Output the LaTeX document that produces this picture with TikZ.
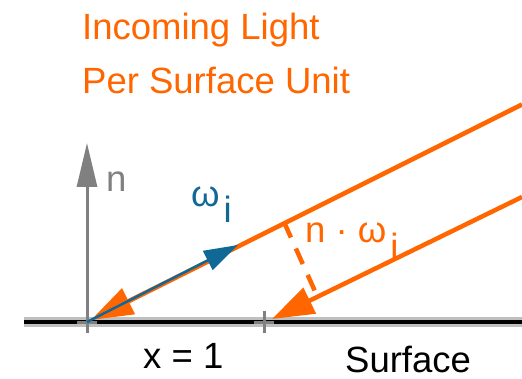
\documentclass[tikz,border=0pt]{standalone}
\usepackage{fontspec}
\setmainfont{Liberation Sans}
\usetikzlibrary{arrows.meta}
\definecolor{lightor}{RGB}{255,102,0}
\definecolor{normgray}{RGB}{128,128,128}
\definecolor{omblue}{RGB}{16,104,150}
\tikzset{
  txt/.style={inner sep=0pt, anchor=base west, font=\fontsize{36.5}{40}\selectfont},
  raylight/.style={draw=lightor, line width=4.5pt, -{Triangle[length=42pt,width=28pt]}},
  surf/.style={line width=4pt, draw=black},
  surfhalo/.style={line width=9pt, draw=black!25},
  tickmark/.style={draw=normgray, line width=3pt},
  normarrow/.style={draw=normgray, line width=3pt, -{Triangle[length=44pt,width=20pt]}},
  blueray/.style={draw=omblue, line width=2.5pt, -{Triangle[length=34pt,width=21pt]}},
  perp/.style={draw=lightor, line width=4.5pt, dash pattern=on 17pt off 12pt}
}
\begin{document}
\begin{tikzpicture}[x=1pt,y=-1pt]
\useasboundingbox (0,0) rectangle (522,379);
% coordinates
\coordinate (O) at (87,322);
\coordinate (SL) at (24,322);
\coordinate (SR) at (522,322);
\coordinate (X1) at (264,322);
\coordinate (NB) at (87,333);
\coordinate (N) at (87,143);
\coordinate (W) at (238,245);
\coordinate (L1) at (522,104.5);
\coordinate (T1) at (91,320);
\coordinate (L2) at (522,197);
\coordinate (T2) at (272,319);
\coordinate (D1) at (284,222);
\coordinate (D2) at (318,298);
% surface
\draw[surfhalo] (SL) -- (SR);
\draw[surf] (SL) -- (SR);
% ticks
\draw[tickmark] ([yshift=-11pt]X1) -- ([yshift=11pt]X1);
\draw[tickmark] ([xshift=-10pt]X1) -- ([xshift=10pt]X1);
\draw[tickmark] ([xshift=-10pt]O) -- ([xshift=10pt]O);
% normal
\draw[normarrow] (NB) -- (N);
% light rays
\draw[raylight] (L1) -- (T1);
\draw[raylight] (L2) -- (T2);
\draw[perp] (D1) -- (D2);
% omega_i
\draw[blueray] (O) -- (W);
% texts
\node[txt, text=lightor] (t1) at (82,40) {Incoming Light};
\node[txt, text=lightor] (t2) at (82,94) {Per Surface Unit};
\node[txt, text=normgray] (nlab) at (106,192) {n};
\node[txt, text=omblue] (wlab) at (191,207) {ω\hspace{4pt}\raisebox{-16pt}{i}};
\node[txt, text=lightor] (dotlab) at (305,243) {n · ω\hspace{4pt}\raisebox{-17pt}{i}};
\node[txt, text=black] (xlab) at (143,368) {x = 1};
\node[txt, text=black] (slab) at (345,372) {Surface};
\end{tikzpicture}
\end{document}
